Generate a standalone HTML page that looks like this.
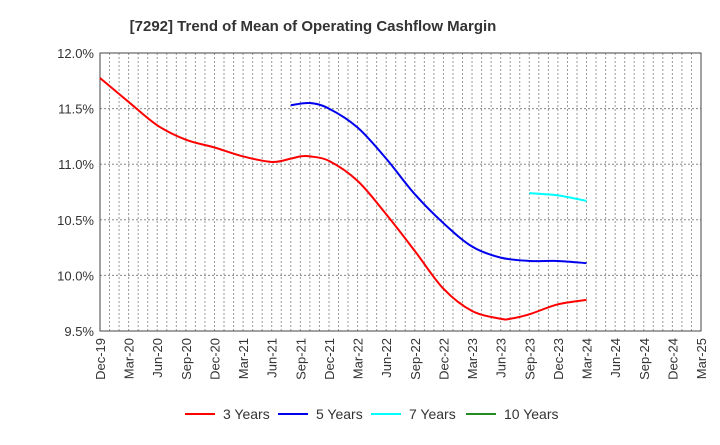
<!DOCTYPE html>
<html><head><meta charset="utf-8"><style>
body{margin:0;background:#fff;font-family:"Liberation Sans",sans-serif}
svg text{font-family:"Liberation Sans",sans-serif}
</style></head><body>
<svg id="chart" width="720" height="440" viewBox="0 0 720 440">
<text x="313" y="31" text-anchor="middle" font-size="15" font-weight="bold" fill="#333">[7292]  Trend of Mean of Operating Cashflow Margin</text>
<g id="grid"></g><g id="axes"></g><g id="series"></g><g id="legend"></g>
</svg>
<script>
const xLabels=["Dec-19","Mar-20","Jun-20","Sep-20","Dec-20","Mar-21","Jun-21","Sep-21","Dec-21","Mar-22","Jun-22","Sep-22","Dec-22","Mar-23","Jun-23","Sep-23","Dec-23","Mar-24","Jun-24","Sep-24","Dec-24","Mar-25"];
const yTicks=[9.5,10.0,10.5,11.0,11.5,12.0];
// month index from Dec-19
const m3=[0,3,6,9,12,15,18,20,21,22,24,27,30,33,36,39,42,43,45,48,51];
const v3=[11.775,11.56,11.35,11.22,11.15,11.07,11.02,11.05,11.07,11.07,11.03,10.85,10.55,10.22,9.88,9.68,9.61,9.61,9.65,9.74,9.78];
const m5=[20,22,24,27,30,33,36,39,42,45,48,51];
const v5=[11.53,11.55,11.5,11.33,11.05,10.73,10.47,10.26,10.16,10.13,10.13,10.11];
const m7=[45,48,51];
const v7=[10.74,10.72,10.67];
const m10=[];const v10=[];
const L=100,R=701,T=53,B=331,NS="http://www.w3.org/2000/svg";
const X=m=>L+(R-L)*m/63, Y=v=>B-(v-9.5)/2.5*(B-T);
function mk(t,a,p){const e=document.createElementNS(NS,t);for(const k in a)e.setAttribute(k,a[k]);p.appendChild(e);return e;}
const g=document.getElementById('grid'),ax=document.getElementById('axes'),s=document.getElementById('series'),lg=document.getElementById('legend');
for(let m=1;m<63;m++){const l=mk('line',{x1:X(m),x2:X(m),y1:T,y2:B,stroke:'#999','stroke-dasharray':'2,2'},g);

}
yTicks.forEach(v=>{if(v>9.5&&v<12){const l=mk('line',{x1:L,x2:R,y1:Y(v),y2:Y(v),stroke:'#888','stroke-dasharray':'2,2'},g);

}
const t=mk('text',{x:L-6,y:Y(v)+5,'text-anchor':'end','font-size':13,fill:'#333'},ax);t.textContent=v.toFixed(1)+'%';

});
const fr=mk('rect',{x:L,y:T,width:R-L,height:B-T,fill:'none',stroke:'#444','stroke-width':1},ax);


xLabels.forEach((lab,i)=>{const x=X(i*3);const t=mk('text',{transform:`translate(${x+5},${B+7}) rotate(-90)`,'text-anchor':'end','font-size':13,fill:'#333'},ax);t.textContent=lab;

});
function path(ms,vs){const p=ms.map((m,i)=>[X(m),Y(vs[i])]);if(!p.length)return'';let d=`M${p[0][0]},${p[0][1]}`;
for(let i=0;i<p.length-1;i++){const p0=p[i-1]||p[i],p1=p[i],p2=p[i+1],p3=p[i+2]||p2;
d+=` C${p1[0]+(p2[0]-p0[0])/6},${p1[1]+(p2[1]-p0[1])/6} ${p2[0]-(p3[0]-p1[0])/6},${p2[1]-(p3[1]-p1[1])/6} ${p2[0]},${p2[1]}`;}return d;}
const ser=[[m3,v3,'#ff0000','3 Years','line-3-years'],[m5,v5,'#0000ee','5 Years','line-5-years'],[m7,v7,'#00ffff','7 Years','line-7-years'],[m10,v10,'#228b22','10 Years','line-10-years']];
const lx=[185,278,371,466];
ser.forEach((se,i)=>{if(se[0].length){const p=mk('path',{d:path(se[0],se[1]),fill:'none',stroke:se[2],'stroke-width':2},s);

}
const ln=mk('line',{x1:lx[i],x2:lx[i]+30,y1:414,y2:414,stroke:se[2],'stroke-width':2},lg);


const t=mk('text',{x:lx[i]+38,y:419,'font-size':14,fill:'#333'},lg);t.textContent=se[3];

});
</script>
</body></html>
